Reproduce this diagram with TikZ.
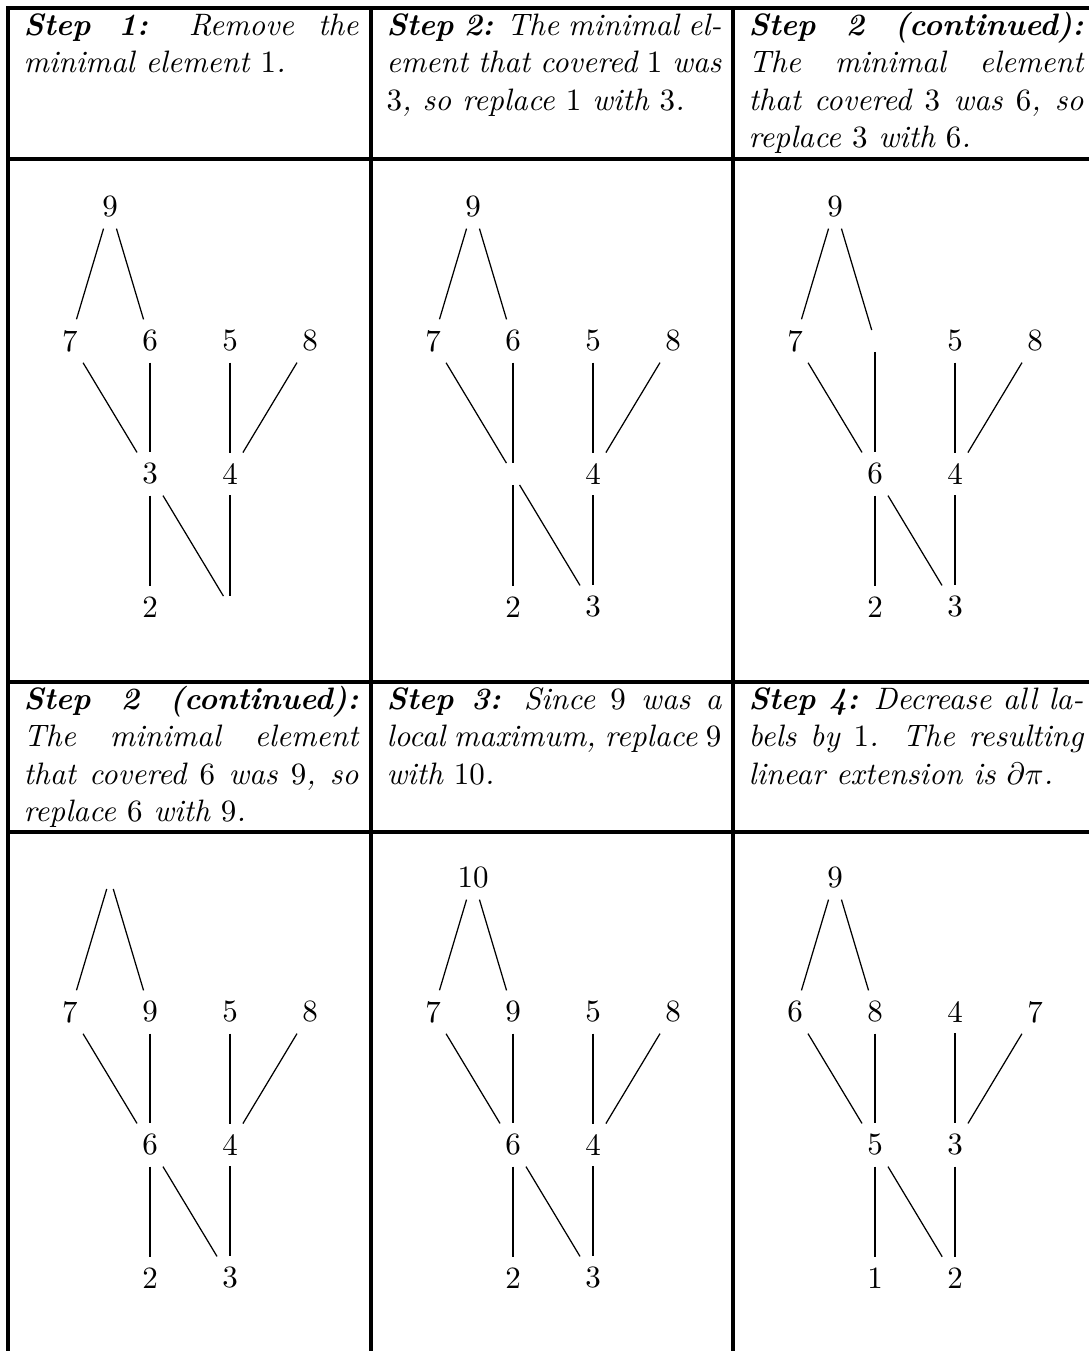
\documentclass[tikz,border=0pt]{standalone}
\newcommand\posetdiag[9]{%
  \node[lbl] (T)  at (110,207) {#1};
  \node[lbl] (L1) at (70,341)  {#2};
  \node[lbl] (L2) at (150,341) {#3};
  \node[lbl] (L3) at (230,341) {#4};
  \node[lbl] (L4) at (310,341) {#5};
  \node[lbl] (M1) at (150,474) {#6};
  \node[lbl] (M2) at (230,474) {#7};
  \node[lbl] (B1) at (150,607) {#8};
  \node[lbl] (B2) at (230,607) {#9};
  \draw[link] (T) -- (L1);
  \draw[link] (T) -- (L2);
  \draw[link] (L1) -- (M1);
  \draw[link] (L2) -- (M1);
  \draw[link] (L3) -- (M2);
  \draw[link] (L4) -- (M2);
  \draw[link] (M1) -- (B1);
  \draw[link] (M1) -- (B2);
  \draw[link] (M2) -- (B2);
}
\begin{document}
\begin{tikzpicture}[x=0.32258pt, y=-0.32258pt,
  rule/.style={line width=1pt},
  link/.style={line width=0.4pt},
  lbl/.style={inner sep=3.33pt},
  cell/.style={anchor=north west, inner sep=0pt, text width=108pt,
    align=justify, font=\itshape, execute at begin node=\strut}]
\useasboundingbox (0,0) rectangle (1089,1351);
% table rules
\draw[rule] (8,1351) -- (8,8) -- (1089,8);
\draw[rule] (371,8) -- (371,1351);
\draw[rule] (733,8) -- (733,1351);
\draw[rule] (8,159) -- (1089,159);
\draw[rule] (8,682) -- (1089,682);
\draw[rule] (8,832) -- (1089,832);
% header texts
\node[cell] (h1) at (23,9) {\textbf{Step 1:} Remove the\linebreak minimal element $1$.};
\node[cell] (h2) at (386,9) {\textbf{Step 2:} The minimal el-\linebreak ement that covered $1$ was\linebreak $3$, so replace $1$ with $3$.};
\node[cell] (h3) at (748,9) {\textbf{Step 2 (continued):}\linebreak The minimal element\linebreak that covered $3$ was $6$, so\linebreak replace $3$ with $6$.};
\node[cell] (h4) at (23,683) {\textbf{Step 2 (continued):}\linebreak The minimal element\linebreak that covered $6$ was $9$, so\linebreak replace $6$ with $9$.};
\node[cell] (h5) at (386,683) {\textbf{Step 3:} Since $9$ was a\linebreak local maximum, replace $9$\linebreak with $10$.};
\node[cell] (h6) at (748,683) {\textbf{Step 4:} Decrease all la-\linebreak bels by $1$. The resulting\linebreak linear extension is $\partial\pi$.};
% posets
\begin{scope}[name prefix=d1-]
  \posetdiag{9}{7}{6}{5}{8}{3}{4}{2}{}
\end{scope}
\begin{scope}[shift={(363,0)}, name prefix=d2-]
  \posetdiag{9}{7}{6}{5}{8}{}{4}{2}{3}
\end{scope}
\begin{scope}[shift={(725,0)}, name prefix=d3-]
  \posetdiag{9}{7}{}{5}{8}{6}{4}{2}{3}
\end{scope}
\begin{scope}[shift={(0,671)}, name prefix=d4-]
  \posetdiag{}{7}{9}{5}{8}{6}{4}{2}{3}
\end{scope}
\begin{scope}[shift={(363,671)}, name prefix=d5-]
  \posetdiag{10}{7}{9}{5}{8}{6}{4}{2}{3}
\end{scope}
\begin{scope}[shift={(725,671)}, name prefix=d6-]
  \posetdiag{9}{6}{8}{4}{7}{5}{3}{1}{2}
\end{scope}
\end{tikzpicture}
\end{document}
